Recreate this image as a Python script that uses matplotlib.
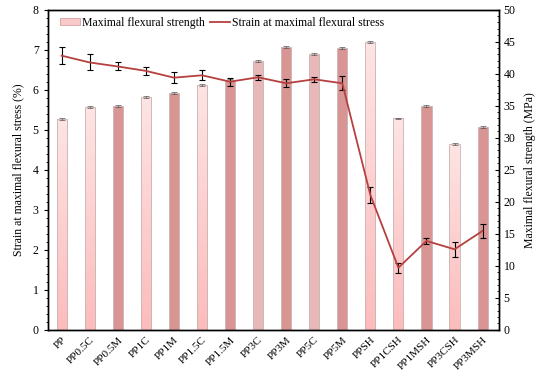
import numpy as np
import matplotlib
matplotlib.use('Agg')
import matplotlib.pyplot as plt
from matplotlib.ticker import MultipleLocator
from matplotlib.colors import LinearSegmentedColormap

plt.rcParams['font.family'] = ['Liberation Serif', 'DejaVu Serif']

samples = ['PP', 'PP0.5C', 'PP0.5M', 'PP1C', 'PP1M', 'PP1.5C', 'PP1.5M', 'PP3C',
           'PP3M', 'PP5C', 'PP5M', 'PPSH', 'PP1CSH', 'PP1MSH', 'PP3CSH', 'PP3MSH']

# flexural strength (MPa), right axis
strength = [32.9, 34.8, 35.0, 36.4, 37.0, 38.3, 39.0, 42.0,
            44.1, 43.1, 44.0, 44.95, 33.0, 35.0, 29.0, 31.6]
strength_err = [0.15] * 16

# strain at max flexural stress (%), left axis
strain = [6.85, 6.68, 6.58, 6.47, 6.30, 6.36, 6.20, 6.31,
          6.16, 6.26, 6.16, 3.37, 1.55, 2.22, 2.01, 2.47]
strain_err = [0.21, 0.20, 0.10, 0.10, 0.13, 0.13, 0.10, 0.06,
              0.10, 0.06, 0.18, 0.20, 0.12, 0.07, 0.18, 0.17]

# bar shade group: 0 light, 1 medium, 2 dark
shade = [0, 0, 2, 0, 2, 0, 2, 1, 2, 1, 2, 0, 0, 2, 0, 2]
face = {0: '#fdd3d3', 1: '#e8b7b7', 2: '#d99594'}

x = np.arange(len(samples))
w = 0.36

fig = plt.figure(figsize=(5.5, 3.81), dpi=100)
ax = fig.add_axes([0.0867, 0.1346, 0.8203, 0.84])
ax2 = ax.twinx()

bars = ax2.bar(x, strength, width=w, color=[face[s] for s in shade],
               edgecolor='#c8b4b4', linewidth=0.6)

# light bars get a vertical gradient like the original
grad = LinearSegmentedColormap.from_list('g', ['#fcbcbc', '#fee4e4'])
for b, s in zip(bars, shade):
    if s != 0:
        continue
    x0 = b.get_x()
    h = b.get_height()
    img = ax2.imshow(np.linspace(0, 1, 100).reshape(-1, 1), cmap=grad, origin='lower',
                     extent=[x0, x0 + w, 0, h], aspect='auto', zorder=b.get_zorder())
    img.set_clip_path(b)
    b.set_facecolor('none')
    b.set_zorder(b.get_zorder() + 0.1)

ax2.errorbar(x, strength, yerr=strength_err, fmt='none', ecolor='#555555',
             elinewidth=0.5, capsize=2, capthick=0.5)

line = ax.errorbar(x, strain, yerr=strain_err, color='#b5403f', lw=1.3,
                   ecolor='black', elinewidth=0.8, capsize=2.2, capthick=0.8)

ax.set_zorder(ax2.get_zorder() + 1)
ax.patch.set_visible(False)

ax.set_xlim(-0.5, 15.58)
ax2.set_xlim(-0.5, 15.58)
ax.set_ylim(0, 8)
ax2.set_ylim(0, 50)
ax.yaxis.set_major_locator(MultipleLocator(1))
ax.yaxis.set_minor_locator(MultipleLocator(0.2))
ax2.yaxis.set_major_locator(MultipleLocator(5))
ax2.yaxis.set_minor_locator(MultipleLocator(1))

ax.set_xticks(x)
ax.set_xticklabels(samples, rotation=45, ha='right', rotation_mode='anchor', fontsize=8)
ax.tick_params(axis='x', length=0, pad=4)
ax.tick_params(axis='y', direction='out', labelsize=8.5, length=3)
ax.tick_params(axis='y', which='minor', direction='out', length=1.8)
ax2.tick_params(axis='y', direction='in', labelsize=8.5, length=3)
ax2.tick_params(axis='y', which='minor', direction='in', length=1.8)

ax.set_ylabel('Strain at maximal flexural stress (%)', fontsize=8.5, labelpad=6)
ax2.set_ylabel('Maximal flexural strength (MPa)', fontsize=8.5, labelpad=6)

for a in (ax, ax2):
    for sp in a.spines.values():
        sp.set_linewidth(1.0)

legend_patch = plt.Rectangle((0, 0), 1, 1, facecolor='#f9caca', edgecolor='#d8a0a0', linewidth=0.6)
ax.legend([legend_patch, line[0]], ['Maximal flexural strength', 'Strain at maximal flexural stress'],
          loc='upper left', bbox_to_anchor=(0.027, 0.978), ncol=2, frameon=False,
          fontsize=8.5, handlelength=1.7, handleheight=0.6, columnspacing=0.5,
          handletextpad=0.15, borderaxespad=0, borderpad=0)

fig.savefig('out.png', dpi=100)
